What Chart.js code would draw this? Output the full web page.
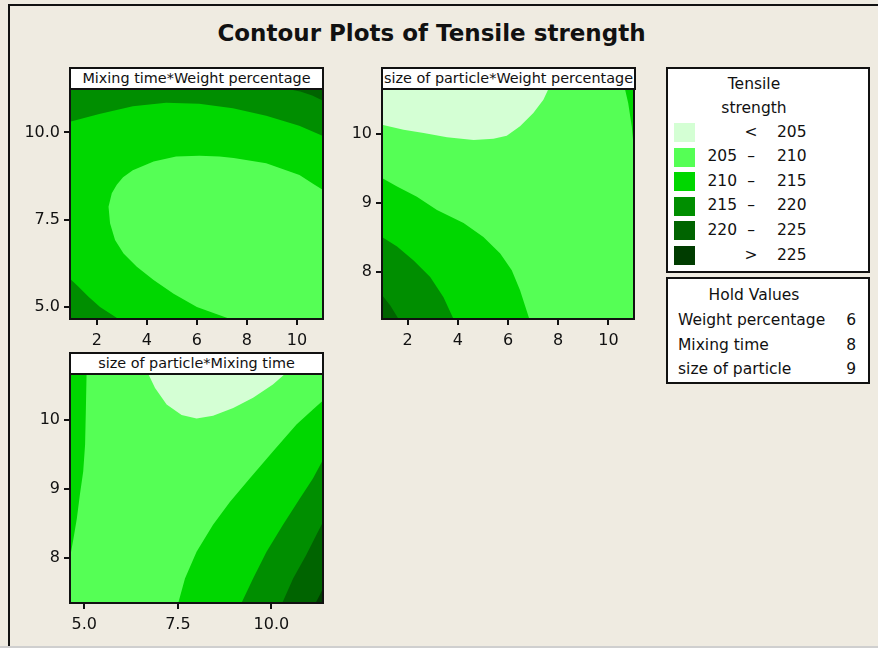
<!DOCTYPE html>
<html>
<head>
<meta charset="utf-8">
<script src="https://cdn.jsdelivr.net/npm/chart.js@4.4.1/dist/chart.umd.min.js"></script>
<style>
  body { margin: 0; width: 878px; height: 648px; overflow: hidden; position: relative;
         background: #EFEBE1; font-family: 'DejaVu Sans', sans-serif; color: #111; }
  #frame { position: absolute; left: 8px; top: 4px; width: 880px; height: 650px;
           border-left: 2px solid #111; border-top: 2px solid #111; }
  #bottomline { position: absolute; left: 0; top: 646px; width: 878px; height: 2px; background: #cfcfcf; }
  #title { position: absolute; left: 0; width: 863px; top: 21px; text-align: center;
           font-weight: bold; font-size: 23px; line-height: 24px; }
  .ptitle { position: absolute; background: #fff; border: 2px solid #111; box-sizing: border-box;
            text-align: center; font-size: 14.4px; line-height: 19px; white-space: nowrap; }
  canvas { position: absolute; }
  .box { position: absolute; background: #fff; border: 2px solid #111; box-sizing: border-box; }
  .t { position: absolute; font-size: 15.5px; line-height: 20px; white-space: nowrap; }
  .sw { position: absolute; width: 21px; height: 19px; }
</style>
</head>
<body>
<div id="frame"></div>
<div id="bottomline"></div>
<div id="title">Contour Plots of Tensile strength</div>

<div class="ptitle" style="left:69px; top:67px; width:255px; height:23px;">Mixing time*Weight percentage</div>
<div class="ptitle" style="left:381px; top:67px; width:255px; height:23px;">size of particle*Weight percentage</div>
<div class="ptitle" style="left:69px; top:352px; width:255px; height:23px;">size of particle*Mixing time</div>

<canvas id="c1" width="318" height="290" style="left:10px; top:74px;"></canvas>
<canvas id="c2" width="317" height="290" style="left:322px; top:74px;"></canvas>
<canvas id="c3" width="318" height="289" style="left:10px; top:359px;"></canvas>

<div class="box" id="legend" style="left:666px; top:67px; width:204px; height:206px;"></div>
<div class="box" id="hold" style="left:666px; top:277px; width:204px; height:107px;"></div>

<script>
// contour levels of Tensile strength
const bandLo = ['', '205', '210', '215', '220', ''];
const bandSym = ['<', '\u2013', '\u2013', '\u2013', '\u2013', '>'];
const bandHi = ['205', '210', '215', '220', '225', '225'];
const bandColors = ['#D4FFD4', '#55FF55', '#00D700', '#008E00', '#006400', '#003C00'];

// hold values
const holdNames = ['Weight percentage', 'Mixing time', 'size of particle'];
const holdValues = [6, 8, 9];

// panel 1: Mixing time (y) vs Weight percentage (x)
const p1XRange = [0.93, 11.04];
const p1YRange = [4.655, 11.245];
const p1XTicks = [2, 4, 6, 8, 10];
const p1YTicks = [5.0, 7.5, 10.0];
const p1Base = 2;
const p1Top215 = [{x:0.93,y:10.31},{x:2.1,y:10.53},{x:3.44,y:10.75},{x:4.77,y:10.85},{x:6.09,y:10.82},
  {x:7.44,y:10.69},{x:8.77,y:10.48},{x:10.09,y:10.19},{x:11.04,y:9.9}];
const p1Top220 = [{x:9.64,y:11.245},{x:10.13,y:11.17},{x:10.61,y:11.06},{x:11.04,y:10.91}];
const p1Mid205 = [{x:7.33,y:4.655},{x:6.0,y:5.0},{x:5.07,y:5.38},{x:4.27,y:5.77},{x:3.6,y:6.15},
  {x:3.07,y:6.53},{x:2.73,y:6.92},{x:2.53,y:7.4},{x:2.47,y:7.87},{x:2.6,y:8.26},{x:2.8,y:8.5},
  {x:3.05,y:8.72},{x:3.44,y:8.92},{x:4.27,y:9.17},{x:5.17,y:9.31},{x:6.1,y:9.33},{x:6.9,y:9.31},
  {x:7.47,y:9.27},{x:8.77,y:9.12},{x:10.1,y:8.78},{x:10.64,y:8.53},{x:11.04,y:8.35}];
const p1Low215 = [{x:0.93,y:5.81},{x:1.27,y:5.58},{x:1.67,y:5.29},{x:2.13,y:5.0},{x:2.87,y:4.655}];

// panel 2: size of particle (y) vs Weight percentage (x)
const p2XRange = [0.98, 11.02];
const p2YRange = [7.324, 10.647];
const p2XTicks = [2, 4, 6, 8, 10];
const p2YTicks = [8, 9, 10];
const p2Base = 1;
const p2Top205 = [{x:0.98,y:10.13},{x:1.84,y:10.06},{x:2.64,y:10.01},{x:3.57,y:9.95},{x:4.63,y:9.91},
  {x:5.42,y:9.93},{x:5.95,y:9.97},{x:6.48,y:10.11},{x:7.01,y:10.3},{x:7.41,y:10.49},{x:7.61,y:10.647}];
const p2Right210 = [{x:10.66,y:10.647},{x:10.79,y:10.44},{x:10.93,y:10.11},{x:11.02,y:9.77}];
const p2Low210 = [{x:0.98,y:9.36},{x:1.58,y:9.24},{x:2.37,y:9.09},{x:3.17,y:8.9},{x:4.23,y:8.71},
  {x:5.02,y:8.51},{x:5.69,y:8.27},{x:6.15,y:8.03},{x:6.48,y:7.74},{x:6.85,y:7.324}];
const p2Low215 = [{x:0.98,y:8.51},{x:1.58,y:8.37},{x:2.24,y:8.17},{x:2.9,y:7.93},{x:3.43,y:7.64},{x:3.83,y:7.324}];
const p2Low220 = [{x:0.98,y:7.67},{x:1.31,y:7.52},{x:1.64,y:7.324}];

// panel 3: size of particle (y) vs Mixing time (x)
const p3XRange = [4.617, 11.379];
const p3YRange = [7.346, 10.663];
const p3XTicks = [5.0, 7.5, 10.0];
const p3YTicks = [8, 9, 10];
const p3Base = 1;
const p3Left210 = [{x:5.06,y:10.663},{x:5.04,y:10.12},{x:5.02,y:9.64},{x:4.97,y:9.25},{x:4.88,y:8.91},
  {x:4.8,y:8.57},{x:4.71,y:8.28},{x:4.617,y:8.0}];
const p3Top205 = [{x:6.71,y:10.663},{x:6.89,y:10.46},{x:7.2,y:10.22},{x:7.6,y:10.07},{x:8.0,y:10.02},
  {x:8.44,y:10.06},{x:8.98,y:10.17},{x:9.51,y:10.32},{x:10.04,y:10.51},{x:10.36,y:10.663}];
const p3Right210 = [{x:7.51,y:7.346},{x:7.69,y:7.7},{x:8.0,y:8.09},{x:8.44,y:8.48},{x:8.89,y:8.81},
  {x:9.42,y:9.15},{x:10.04,y:9.54},{x:10.67,y:9.93},{x:11.11,y:10.15},{x:11.379,y:10.28}];
const p3Right215 = [{x:9.2,y:7.346},{x:9.51,y:7.7},{x:9.87,y:8.09},{x:10.31,y:8.48},{x:10.76,y:8.86},
  {x:11.11,y:9.15},{x:11.379,y:9.42}];
const p3Right220 = [{x:10.29,y:7.346},{x:10.58,y:7.7},{x:10.93,y:8.04},{x:11.2,y:8.33},{x:11.379,y:8.52}];
const p3Right225 = [{x:11.18,y:7.346},{x:11.29,y:7.46},{x:11.379,y:7.56}];

// close a contour curve through corners lying just outside the plot,
// so the part inside the axes is exactly the band region
function outline(curve, corners, xr, yr) {
  const dx = (xr[1] - xr[0]) * 0.2, dy = (yr[1] - yr[0]) * 0.2;
  const c = {
    tl: {x: xr[0] - dx, y: yr[1] + dy}, tr: {x: xr[1] + dx, y: yr[1] + dy},
    bl: {x: xr[0] - dx, y: yr[0] - dy}, br: {x: xr[1] + dx, y: yr[0] - dy}
  };
  const out = corners.map(k => c[k]);
  const first = out[0];
  return [{x: xr[0] - 2 * dx, y: first.y}, ...out, ...curve, first, {x: xr[1] + 2 * dx, y: first.y}];
}

function makePanel(id, xr, yr, xt, yt, xDec, yDec, base, regions) {
  const datasets = regions.map((r, i) => ({
    data: outline(r.curve, r.corners, xr, yr),
    backgroundColor: bandColors[r.band],
    borderColor: bandColors[r.band],
    borderWidth: 0,
    pointRadius: 0,
    tension: 0,
    fill: 'shape',
    order: regions.length - i
  }));

  const plotFrame = {
    id: 'plotFrame',
    beforeDatasetsDraw(chart) {
      const a = chart.chartArea, ctx = chart.ctx;
      ctx.save();
      ctx.fillStyle = bandColors[base];
      ctx.fillRect(a.left, a.top, a.right - a.left, a.bottom - a.top);
      ctx.restore();
    },
    afterDraw(chart) {
      const a = chart.chartArea, ctx = chart.ctx;
      ctx.save();
      ctx.strokeStyle = '#111';
      ctx.lineWidth = 2;
      ctx.strokeRect(a.left, a.top, a.right - a.left, a.bottom - a.top);
      ctx.restore();
    }
  };

  const tickFont = {family: "'DejaVu Sans', sans-serif", size: 16};
  const grid = {display: true, drawOnChartArea: false, drawTicks: true, tickLength: 6, color: '#111', lineWidth: 2};

  new Chart(document.getElementById(id), {
    type: 'line',
    data: {datasets},
    options: {
      responsive: false,
      animation: false,
      events: [],
      layout: {padding: {top: 15, right: 5, left: 0, bottom: 0}},
      plugins: {legend: {display: false}, tooltip: {enabled: false}},
      scales: {
        x: {
          type: 'linear', min: xr[0], max: xr[1],
          afterBuildTicks: s => { s.ticks = xt.map(v => ({value: v})); },
          afterFit: s => { s.height = 45; },
          ticks: {font: tickFont, color: '#111', padding: 6, maxRotation: 0,
                  callback: v => v.toFixed(xDec)},
          grid: grid,
          border: {display: false}
        },
        y: {
          type: 'linear', min: yr[0], max: yr[1],
          afterBuildTicks: s => { s.ticks = yt.map(v => ({value: v})); },
          afterFit: s => { s.width = 60; },
          ticks: {font: tickFont, color: '#111', padding: 4,
                  callback: v => v.toFixed(yDec)},
          grid: grid,
          border: {display: false}
        }
      }
    },
    plugins: [plotFrame]
  });
}

makePanel('c1', p1XRange, p1YRange, p1XTicks, p1YTicks, 0, 1, p1Base, [
  {curve: p1Top215, corners: ['tr', 'tl'], band: 3},
  {curve: p1Top220, corners: ['tr'], band: 4},
  {curve: p1Mid205, corners: ['br'], band: 1},
  {curve: p1Low215, corners: ['bl'], band: 3}
]);

makePanel('c2', p2XRange, p2YRange, p2XTicks, p2YTicks, 0, 0, p2Base, [
  {curve: p2Top205, corners: ['tl'], band: 0},
  {curve: p2Right210, corners: ['tr'], band: 2},
  {curve: p2Low210, corners: ['bl'], band: 2},
  {curve: p2Low215, corners: ['bl'], band: 3},
  {curve: p2Low220, corners: ['bl'], band: 4}
]);

makePanel('c3', p3XRange, p3YRange, p3XTicks, p3YTicks, 1, 0, p3Base, [
  {curve: p3Left210, corners: ['tl'], band: 2},
  {curve: p3Top205, corners: ['tr', 'tl'], band: 0},
  {curve: p3Right210, corners: ['br'], band: 2},
  {curve: p3Right215, corners: ['br'], band: 3},
  {curve: p3Right220, corners: ['br'], band: 4},
  {curve: p3Right225, corners: ['br'], band: 5}
]);

// legend boxes (coordinates relative to each box)
function addText(parent, txt, left, top, align, width) {
  const d = document.createElement('div');
  d.className = 't';
  d.textContent = txt;
  d.style.top = top + 'px';
  if (align === 'center') { d.style.left = (left - width / 2) + 'px'; d.style.width = width + 'px'; d.style.textAlign = 'center'; }
  else if (align === 'right') { d.style.left = (left - width) + 'px'; d.style.width = width + 'px'; d.style.textAlign = 'right'; }
  else { d.style.left = left + 'px'; }
  parent.appendChild(d);
}

const legend = document.getElementById('legend');
addText(legend, 'Tensile', 86, 5, 'center', 120);
addText(legend, 'strength', 86, 29, 'center', 120);
bandColors.forEach((col, i) => {
  const cy = 63.5 + i * 24.6;
  const sw = document.createElement('div');
  sw.className = 'sw';
  sw.style.left = '6px';
  sw.style.top = (cy - 9.5) + 'px';
  sw.style.background = col;
  legend.appendChild(sw);
  addText(legend, bandLo[i], 69, cy - 11, 'right', 40);
  addText(legend, bandSym[i], 83, cy - 11, 'center', 20);
  addText(legend, bandHi[i], 109, cy - 11, 'left');
});

const hold = document.getElementById('hold');
addText(hold, 'Hold Values', 86, 6, 'center', 160);
holdNames.forEach((n, i) => {
  addText(hold, n, 10, 31 + i * 24.5, 'left');
  addText(hold, String(holdValues[i]), 188, 31 + i * 24.5, 'right', 30);
});
</script>
</body>
</html>
